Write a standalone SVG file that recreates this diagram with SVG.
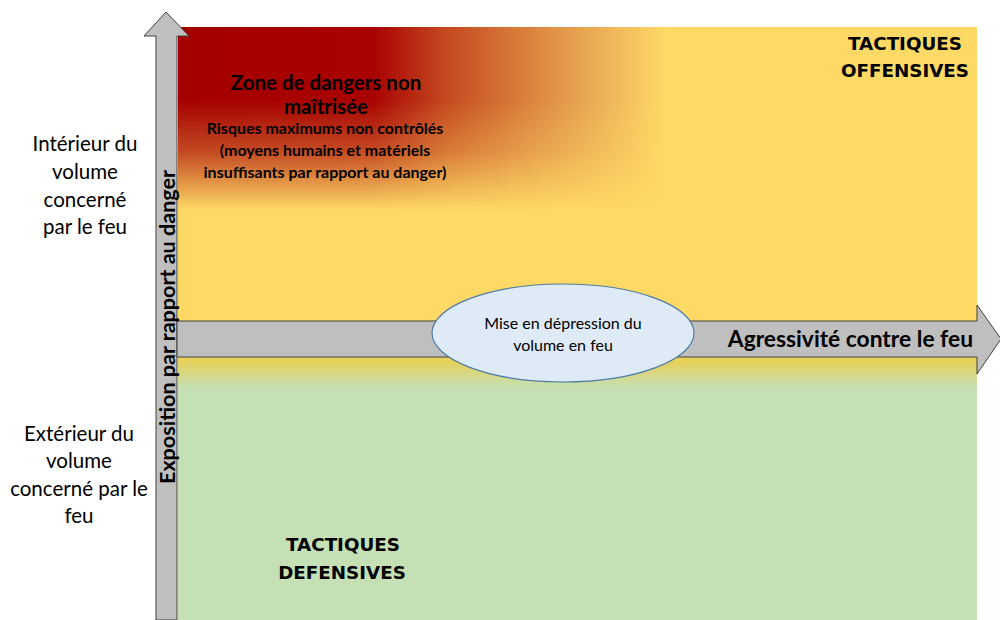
<svg xmlns="http://www.w3.org/2000/svg" width="1000" height="620" viewBox="0 0 1000 620">
<defs>
<style>
.lbl{font-family:"Lato","Open Sans","Liberation Sans",sans-serif;fill:#000}
.side{font-size:20.5px;text-anchor:middle}
.b{font-weight:bold}
.tac{font-family:"DejaVu Sans","Liberation Sans",sans-serif;font-weight:bold;font-size:18.3px;text-anchor:middle;fill:#000}
.arrow{fill:#BFBFBF;stroke:#404040;stroke-width:1}
</style>
<linearGradient id="bg" x1="0" y1="0" x2="0" y2="620" gradientUnits="userSpaceOnUse">
<stop offset="0.55" stop-color="#FED966"/>
<stop offset="0.583" stop-color="#E6D05A"/>
<stop offset="0.625" stop-color="#C5E0B4"/>
<stop offset="1" stop-color="#C5E0B4"/>
</linearGradient>
<linearGradient id="redH" x1="178" y1="0" x2="665" y2="0" gradientUnits="userSpaceOnUse">
<stop offset="0" stop-color="#A50000"/>
<stop offset="0.4" stop-color="#A80202"/>
<stop offset="0.55" stop-color="#C4491F"/>
<stop offset="0.72" stop-color="#DB823E"/>
<stop offset="0.9" stop-color="#F0BA5B"/>
<stop offset="1" stop-color="#FED966"/>
</linearGradient>
<linearGradient id="maskV" x1="0" y1="27" x2="0" y2="210" gradientUnits="userSpaceOnUse">
<stop offset="0" stop-color="#fff"/>
<stop offset="0.4" stop-color="#fff"/>
<stop offset="0.68" stop-color="#aaa"/>
<stop offset="1" stop-color="#000"/>
</linearGradient>
<mask id="fade" maskUnits="userSpaceOnUse" x="178" y="27" width="490" height="190">
<rect x="178" y="27" width="490" height="190" fill="url(#maskV)"/>
</mask>
</defs>

<g id="background">
<rect x="178" y="27" width="799" height="593" fill="url(#bg)"/>
<rect x="178" y="27" width="487" height="185" fill="url(#redH)" mask="url(#fade)"/>
</g>

<g id="connectors">
<polygon class="arrow" points="156,620 156,36 144,36 166,12 189,36 177,36 177,620"/>
<polygon class="arrow" points="177,321 977,321 977,305 1001,339 977,374 977,357 177,357"/>
</g>

<g id="axis-y-label">
<text class="lbl b" font-size="20" text-anchor="middle" textLength="314" lengthAdjust="spacingAndGlyphs" transform="translate(175,327) rotate(-90)">Exposition par rapport au danger</text>
</g>
<g id="axis-x-label">
<text class="lbl b" font-size="22.8" x="973" y="347" text-anchor="end">Agressivité contre le feu</text>
</g>

<g id="node-depression">
<ellipse cx="563" cy="333" rx="131" ry="49" fill="#DEEBF7" stroke="#4F7BA8" stroke-width="1.2"/>
<text class="lbl" font-size="16" text-anchor="middle"><tspan x="563" y="329">Mise en dépression du</tspan><tspan x="563" y="351">volume en feu</tspan></text>
</g>

<g id="zone-danger">
<text class="lbl b" font-size="20.5" text-anchor="middle"><tspan x="326" y="90">Zone de dangers non</tspan><tspan x="326" y="114">maîtrisée</tspan></text>
<text class="lbl b" font-size="16" text-anchor="middle"><tspan x="325" y="134">Risques maximums non contrôlés</tspan><tspan x="325" y="156">(moyens humains et matériels</tspan><tspan x="325" y="178">insuffisants par rapport au danger)</tspan></text>
</g>

<g id="tactiques-offensives">
<text class="tac"><tspan x="905" y="50">TACTIQUES</tspan><tspan x="905" y="77">OFFENSIVES</tspan></text>
</g>
<g id="tactiques-defensives">
<text class="tac"><tspan x="343" y="551">TACTIQUES</tspan><tspan x="342" y="579">DEFENSIVES</tspan></text>
</g>

<g id="label-interieur">
<text class="lbl side"><tspan x="85" y="151">Intérieur du</tspan><tspan x="85" y="179">volume</tspan><tspan x="85" y="207">concerné</tspan><tspan x="85" y="234">par le feu</tspan></text>
</g>
<g id="label-exterieur">
<text class="lbl side"><tspan x="79" y="441">Extérieur du</tspan><tspan x="79" y="468">volume</tspan><tspan x="79" y="496">concerné par le</tspan><tspan x="79" y="523">feu</tspan></text>
</g>
</svg>
